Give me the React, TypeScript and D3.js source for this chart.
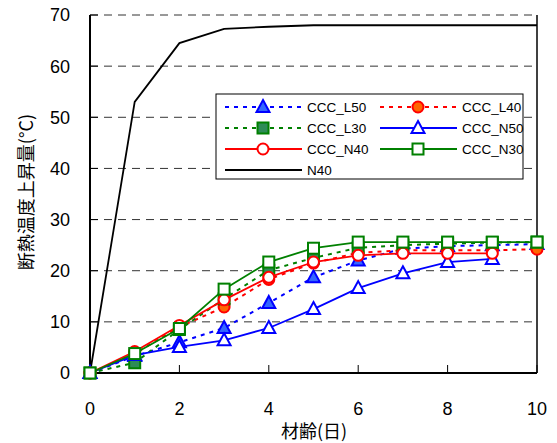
import React from 'react'
import * as d3 from 'd3'

const WIDTH = 557
const HEIGHT = 443
const margin = { top: 15, right: 20, bottom: 70, left: 90 }

// 材齢(日)
const days = [0, 1, 2, 3, 4, 5, 6, 7, 8, 9, 10]
const xTicks = [0, 2, 4, 6, 8, 10]
const yTicks = [0, 10, 20, 30, 40, 50, 60, 70]

// 断熱温度上昇量(°C)
const n40Black = [0, 53, 64.5, 67.3, 67.7, 68, 68, 68, 68, 68, 68]
const cccL50 = [0, 3.3, 6, 8.8, 13.7, 18.7, 22, 24.3, 24.8, 25, 25.2]
const cccL40 = [0, 3.8, 9, 12.9, 18.3, 21.5, 23.5, 24, 24, 24, 24.2]
const cccL30 = [0, 2, 8.5, 14.5, 20.1, 22.5, 24.5, 25, 25.3, 25.5, 25.6]
const cccN50 = [0, 3.5, 5.1, 6.4, 8.8, 12.5, 16.6, 19.5, 21.7, 22.3]
const cccN40 = [0, 4.2, 9.3, 14.3, 18.7, 21.7, 23, 23.4, 23.4, 23.4]
const cccN30 = [0, 3.8, 8.7, 16.4, 21.7, 24.4, 25.6, 25.6, 25.6, 25.6, 25.6]

type Series = {
  name: string
  values: number[]
  stroke: string
  dash?: string
  marker?: 'tri' | 'circle' | 'square'
  fill?: string
}

const series: Series[] = [
  { name: 'N40', values: n40Black, stroke: '#000000' },
  { name: 'CCC_L50', values: cccL50, stroke: '#0000ff', dash: '4,5', marker: 'tri', fill: '#3366ff' },
  { name: 'CCC_L40', values: cccL40, stroke: '#ff0000', dash: '4,5', marker: 'circle', fill: '#ff6600' },
  { name: 'CCC_L30', values: cccL30, stroke: '#008000', dash: '4,5', marker: 'square', fill: '#2e8b57' },
  { name: 'CCC_N50', values: cccN50, stroke: '#0000ff', marker: 'tri', fill: '#ffffff' },
  { name: 'CCC_N40', values: cccN40, stroke: '#ff0000', marker: 'circle', fill: '#ffffff' },
  { name: 'CCC_N30', values: cccN30, stroke: '#008000', marker: 'square', fill: '#ffffff' },
]

const legendOrder = ['CCC_L50', 'CCC_L40', 'CCC_L30', 'CCC_N50', 'CCC_N40', 'CCC_N30', 'N40']

const Marker = ({ s, x, y }: { s: Series; x: number; y: number }) => {
  if (s.marker === 'tri') {
    const p = `M${x},${y - 7}L${x + 6.5},${y + 5}L${x - 6.5},${y + 5}Z`
    return <path d={p} fill={s.fill} stroke={s.stroke} strokeWidth={2} />
  }
  if (s.marker === 'circle') {
    return <circle cx={x} cy={y} r={5.5} fill={s.fill} stroke={s.stroke} strokeWidth={2} />
  }
  if (s.marker === 'square') {
    return <rect x={x - 5.5} y={y - 5.5} width={11} height={11} fill={s.fill} stroke={s.stroke} strokeWidth={2} />
  }
  return null
}

const App = () => {
  const chartRight = WIDTH - margin.right
  const chartBottom = HEIGHT - margin.bottom

  const xScale = d3.scaleLinear().domain([0, 10]).range([margin.left, chartRight])
  const yScale = d3.scaleLinear().domain([0, 70]).range([chartBottom, margin.top])

  const line = d3
    .line<number>()
    .x((_, i) => xScale(days[i]))
    .y(d => yScale(d))

  const numFont = '"Liberation Sans", Arial, sans-serif'
  const jpFont = '"Noto Sans CJK JP", sans-serif'

  // legend
  const lgX = 216
  const lgY = 94
  const lgW = 307
  const lgH = 85
  const rowH = 21
  const colW = 155

  return (
    <svg width={WIDTH} height={HEIGHT} style={{ position: 'absolute', left: 0, top: 0, background: '#fff' }}>
      {/* grid */}
      {yTicks.filter(t => t > 0).map(t => (
        <line key={t} x1={margin.left} x2={chartRight} y1={yScale(t)} y2={yScale(t)}
          stroke="#333" strokeWidth={1} strokeDasharray="8,6" />
      ))}

      {/* axes frame */}
      <line x1={margin.left} x2={margin.left} y1={margin.top} y2={chartBottom} stroke="#000" strokeWidth={2} />
      <line x1={margin.left} x2={chartRight} y1={chartBottom} y2={chartBottom} stroke="#000" strokeWidth={2} />
      <line x1={chartRight} x2={chartRight} y1={margin.top} y2={chartBottom} stroke="#000" strokeWidth={1.5} />

      {/* y ticks */}
      {yTicks.map(t => (
        <g key={t}>
          <line x1={margin.left} x2={margin.left + 8} y1={yScale(t)} y2={yScale(t)} stroke="#000" strokeWidth={1} />
          <text x={70} y={yScale(t)} dy="0.36em" textAnchor="end" fontSize={18} fontFamily={numFont}>{t}</text>
        </g>
      ))}
      {/* x ticks */}
      {xTicks.map(t => (
        <g key={t}>
          <line x1={xScale(t)} x2={xScale(t)} y1={chartBottom} y2={chartBottom - 8} stroke="#000" strokeWidth={1} />
          <text x={xScale(t)} y={415} textAnchor="middle" fontSize={18} fontFamily={numFont}>{t}</text>
        </g>
      ))}

      <text x={314} y={438} textAnchor="middle" fontSize={18} fontFamily={jpFont}>材齢(日)</text>
      <text transform="translate(27,192) rotate(-90)" dy="0.35em" textAnchor="middle" fontSize={18} fontFamily={jpFont}>
        断熱温度上昇量(°C)
      </text>

      {/* series */}
      {series.map(s => (
        <g key={s.name}>
          <path d={line(s.values) || ''} fill="none" stroke={s.stroke} strokeWidth={s.dash ? 2 : 1.8}
            strokeDasharray={s.dash} />
          {s.marker && s.values.map((v, i) => (
            <Marker key={i} s={s} x={xScale(days[i])} y={yScale(v)} />
          ))}
        </g>
      ))}

      {/* legend */}
      <rect x={lgX} y={lgY} width={lgW} height={lgH} fill="#fff" stroke="#000" strokeWidth={1} />
      {legendOrder.map((name, i) => {
        const s = series.find(d => d.name === name)!
        const col = i % 2
        const row = Math.floor(i / 2)
        const x0 = lgX + 9 + col * colW
        const y0 = lgY + 13 + row * rowH
        return (
          <g key={name}>
            <line x1={x0} x2={x0 + 77} y1={y0} y2={y0} stroke={s.stroke} strokeWidth={2} strokeDasharray={s.dash} />
            {s.marker && <Marker s={s} x={x0 + 38} y={y0} />}
            <text x={x0 + 82} y={y0} dy="0.36em" fontSize={13.5} fontFamily={numFont}>{name}</text>
          </g>
        )
      })}
    </svg>
  )
}

export default App
